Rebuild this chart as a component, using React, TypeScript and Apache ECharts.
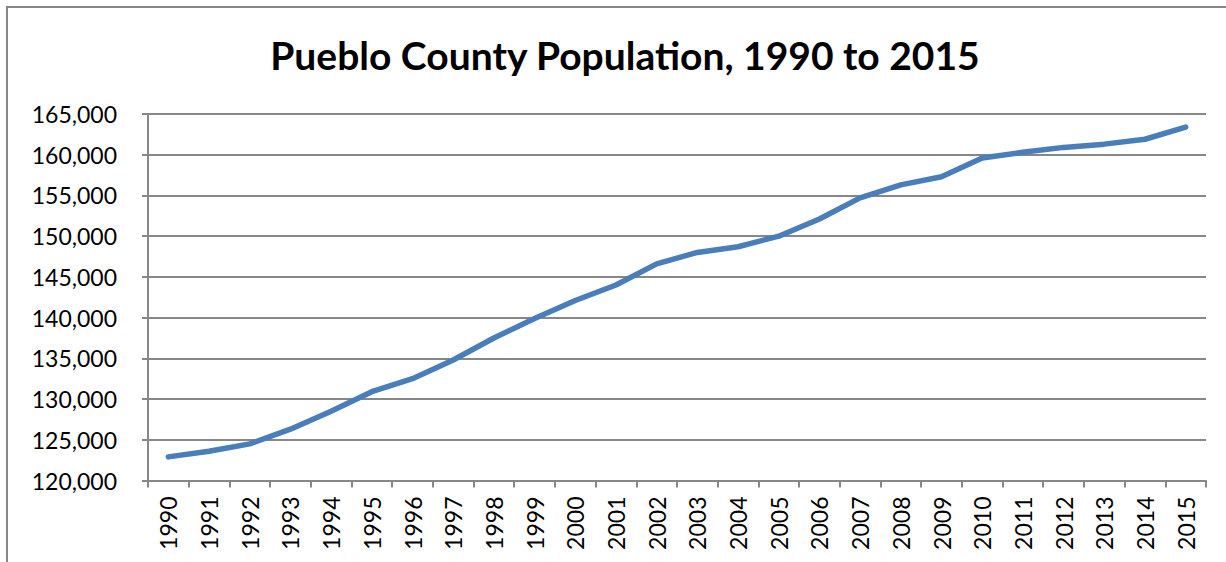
import React, { useEffect, useRef } from "react";
import * as echarts from "echarts";

const years = [
  "1990", "1991", "1992", "1993", "1994", "1995", "1996", "1997", "1998", "1999",
  "2000", "2001", "2002", "2003", "2004", "2005", "2006", "2007", "2008", "2009",
  "2010", "2011", "2012", "2013", "2014", "2015",
];
const population = [
  122900, 123600, 124500, 126300, 128500, 130900, 132500, 134800, 137500, 139900,
  142100, 144000, 146600, 148000, 148700, 150000, 152100, 154700, 156300, 157300,
  159600, 160300, 160900, 161300, 161900, 163400,
];
const titleText = "Pueblo County Population, 1990 to 2015";
const yMin = 120000;
const yMax = 165000;
const yStep = 5000;

export default function App() {
  const ref = useRef<HTMLDivElement>(null);
  useEffect(() => {
    if (!ref.current) return;
    const chart = echarts.init(ref.current, null, { renderer: "svg" });
    const font = "Lato, 'Noto Sans', sans-serif";
    chart.setOption({
      animation: false,
      backgroundColor: "#ffffff",
      textStyle: { fontFamily: font },
      title: {
        text: titleText,
        left: 620,
        textAlign: "center",
        top: 30,
        textStyle: { fontFamily: font, fontSize: 39, fontWeight: "bold", color: "#000" },
      },
      graphic: [
        {
          type: "rect",
          shape: { x: 7, y: 7, width: 1400, height: 700 },
          style: { fill: "none", stroke: "#878787", lineWidth: 2 },
          silent: true,
        },
      ],
      grid: { left: 148, right: 20, top: 114, bottom: 81.5, containLabel: false },
      xAxis: {
        type: "category",
        data: years,
        boundaryGap: true,
        axisLine: { show: true, lineStyle: { color: "#878787", width: 2 } },
        axisTick: { show: true, length: 7, alignWithLabel: false, lineStyle: { color: "#878787", width: 2 } },
        axisLabel: { rotate: 90, fontSize: 23, color: "#000", margin: 16, fontFamily: font, interval: 0 },
        splitLine: { show: false },
      },
      yAxis: {
        type: "value",
        min: yMin,
        max: yMax,
        interval: yStep,
        axisLine: { show: true, lineStyle: { color: "#878787", width: 2 } },
        axisTick: { show: true, length: 6, lineStyle: { color: "#878787", width: 2 } },
        axisLabel: {
          fontSize: 23,
          color: "#000",
          margin: 31,
          fontFamily: font,
          formatter: (v: number) => v.toLocaleString("en-US"),
        },
        splitLine: { show: true, lineStyle: { color: "#878787", width: 2 } },
      },
      series: [
        {
          type: "line",
          data: population,
          showSymbol: false,
          symbol: "none",
          lineStyle: { color: "#4a7ebb", width: 5.5, cap: "round", join: "round" },
        },
      ],
    });
    return () => chart.dispose();
  }, []);
  return (
    <div
      ref={ref}
      style={{ position: "fixed", left: 0, top: 0, width: 1226, height: 562 }}
    />
  );
}
